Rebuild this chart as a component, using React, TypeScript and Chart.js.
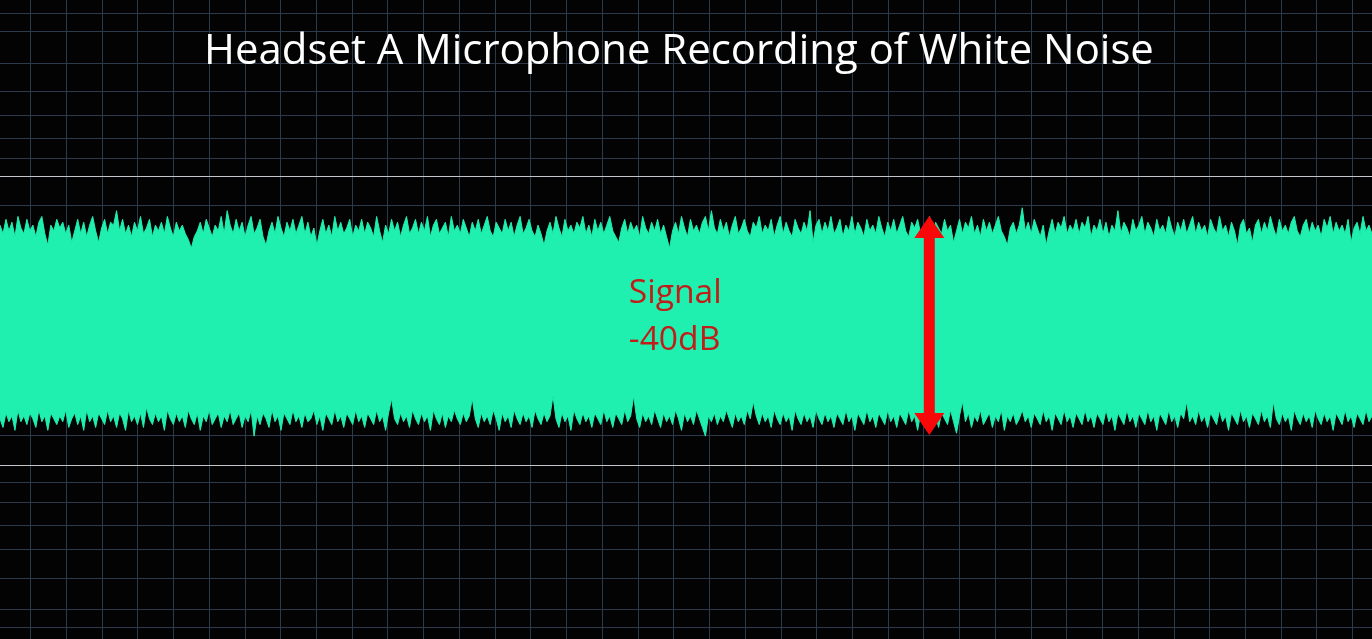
import { useEffect, useRef } from "react";
import { Chart, registerables } from "chart.js";

Chart.register(...registerables);

const TITLE = "Headset A Microphone Recording of White Noise";
const SIGNAL_LABEL = ["Signal", "-40dB"];

// Upper edge of the waveform (percent of full scale), read left to right
const upperPeaks = [
  33,30,35,31,34,29,36,32,30,35,31,33,29,34,36,30,26,33,31,35,
  32,34,30,33,27,31,35,30,34,29,33,36,31,27,32,35,30,34,33,38,
  31,35,30,33,29,34,31,36,30,32,35,29,33,31,34,30,36,32,29,34,
  31,33,30,28,25,29,31,34,30,35,32,29,33,31,36,30,38,33,30,35,
  31,34,29,33,36,30,32,35,29,26,31,34,30,36,32,29,34,31,35,30,
  33,36,30,34,29,32,26,31,35,30,33,29,36,31,34,30,32,35,29,33,
  31,35,30,34,32,29,36,31,27,33,30,35,31,34,29,33,36,30,32,35,
  30,34,31,36,29,33,35,30,32,34,29,36,31,33,30,35,32,29,34,31,
  35,30,33,36,31,29,34,32,30,35,31,34,29,33,36,30,32,35,31,29,
  33,30,26,31,34,30,36,32,29,35,31,33,30,34,32,36,30,33,29,35,
  31,34,30,33,36,31,29,27,32,35,30,34,31,33,29,36,32,30,34,31,
  35,30,33,29,25,31,34,30,36,32,29,35,31,33,30,34,36,31,38,32,
  30,35,31,34,29,33,36,30,32,35,31,29,34,32,36,30,33,31,35,29,
  33,36,30,34,31,29,35,32,30,34,31,38,27,33,35,30,34,31,36,30,
  32,35,29,33,31,36,30,34,32,29,35,31,33,30,36,32,29,34,31,35,
  30,33,36,31,29,34,32,35,30,33,31,36,29,34,32,30,35,31,33,27,
  31,35,30,34,32,36,30,33,29,35,31,34,30,33,36,31,29,26,32,34,
  30,33,39,31,34,30,35,32,29,33,26,31,35,30,34,32,36,30,33,31,
  35,30,34,32,36,29,33,31,35,30,34,29,33,31,38,30,34,32,29,35,
  31,33,36,30,34,32,29,35,31,33,30,36,32,29,34,31,35,30,33,36,
  30,34,31,33,29,35,32,30,36,31,33,29,34,31,26,33,35,30,32,27,
  33,35,30,34,31,36,32,29,35,31,33,30,34,36,31,29,33,35,30,34,
  31,33,29,35,32,36,30,34,31,33,30,35,27,32,34,30,36,31,33,30,
];

// Lower edge of the waveform (percent of full scale), read left to right
const lowerPeaks = [
  -34,-37,-32,-35,-33,-38,-31,-35,-33,-36,-32,-34,-37,-31,-35,-33,-38,-32,-34,-36,
  -33,-35,-31,-37,-34,-32,-36,-33,-38,-31,-35,-33,-37,-32,-34,-36,-31,-35,-33,-37,
  -32,-34,-38,-31,-35,-33,-36,-32,-37,-30,-34,-36,-32,-35,-33,-38,-31,-34,-36,-32,
  -35,-33,-37,-31,-34,-36,-32,-38,-33,-35,-31,-36,-34,-32,-37,-33,-35,-31,-36,-34,
  -32,-37,-33,-35,-31,-40,-33,-36,-32,-34,-37,-31,-35,-33,-38,-32,-34,-36,-31,-35,
  -33,-37,-32,-35,-34,-31,-36,-33,-38,-32,-34,-36,-31,-35,-33,-37,-32,-34,-36,-31,
  -35,-33,-37,-32,-34,-36,-31,-35,-33,-38,-32,-27,-34,-36,-32,-35,-33,-37,-31,-34,
  -36,-32,-35,-33,-38,-31,-34,-36,-32,-37,-33,-35,-31,-34,-36,-32,-35,-33,-27,-34,
  -37,-32,-35,-33,-36,-31,-34,-38,-32,-35,-33,-37,-31,-34,-36,-32,-35,-33,-37,-31,
  -34,-36,-32,-35,-33,-26,-34,-37,-32,-35,-33,-38,-31,-34,-36,-32,-35,-33,-37,-32,
  -34,-36,-31,-35,-33,-37,-32,-34,-36,-31,-35,-33,-26,-34,-37,-32,-35,-33,-36,-31,
  -34,-37,-32,-35,-33,-36,-31,-34,-38,-32,-35,-33,-36,-31,-34,-37,-40,-33,-35,-32,
  -36,-33,-35,-31,-34,-37,-32,-35,-33,-36,-31,-34,-28,-33,-36,-32,-35,-33,-37,-31,
  -34,-36,-32,-35,-33,-38,-31,-34,-36,-32,-35,-33,-37,-31,-34,-36,-32,-35,-33,-37,
  -32,-34,-36,-31,-35,-33,-38,-32,-34,-36,-31,-35,-33,-37,-32,-34,-36,-31,-35,-33,
  -37,-32,-34,-36,-31,-35,-33,-38,-32,-34,-36,-31,-35,-33,-37,-32,-34,-36,-31,-35,
  -39,-33,-28,-35,-32,-37,-33,-35,-31,-36,-34,-32,-37,-33,-35,-31,-38,-33,-35,-32,
  -36,-34,-31,-35,-33,-37,-32,-34,-36,-31,-35,-33,-38,-32,-34,-36,-31,-35,-33,-37,
  -32,-34,-36,-31,-35,-33,-37,-32,-34,-36,-31,-35,-33,-38,-32,-34,-36,-31,-35,-33,
  -37,-32,-34,-36,-31,-35,-33,-38,-32,-34,-36,-31,-35,-33,-37,-32,-34,-28,-35,-33,
  -36,-31,-35,-33,-37,-32,-34,-36,-31,-35,-33,-38,-32,-34,-36,-31,-35,-33,-37,-32,
  -34,-36,-31,-35,-33,-37,-28,-34,-36,-32,-35,-33,-38,-31,-34,-36,-32,-35,-33,-37,
  -31,-34,-36,-32,-35,-33,-38,-32,-34,-36,-31,-35,-33,-37,-32,-34,-36,-31,-35,-33,
];

// Time axis (grid divisions) and amplitude axis (percent of full scale)
const X_MIN = 0.141;
const X_MAX = 38.54;
const Y_MIN = -110.2;
const Y_MAX = 110.9;
const xGridTicks = [
  1, 2, 3, 4, 5, 6, 7, 8, 9, 10, 11, 12, 13, 14, 15, 16, 17, 18, 19,
  20, 21, 22, 23, 24, 25, 26, 27, 28, 29, 30, 31, 32, 33, 34, 35, 36, 37, 38,
];
const yGridTicks = [
  -106.2, -100, -89.1, -79.4, -70.8, -63.1, -56.2, -50, -39.8,
  39.8, 50, 56.2, 63.1, 70.8, 79.4, 89.1, 100, 106.2,
];
const REFERENCE_LEVEL = 50;

// Annotation: double arrow spanning the signal, and its label
const ARROW_X = 26.15;
const ARROW_TOP = 36.2;
const ARROW_BOTTOM = -39.6;
const LABEL_X = 17.74;
const LABEL_Y = [5.95, -10.2];

const WAVE = "#1ff0b0";
const GRID = "#2c394b";
const REF_LINE = "#c4c6cc";
const BG = "#040304";

function toPoints(values: number[]) {
  const n = values.length;
  return values.map((v, i) => ({ x: X_MIN + (i * (X_MAX - X_MIN)) / (n - 1), y: v }));
}

const overlayPlugin = {
  id: "overlay",
  beforeDraw(chart: any) {
    const { ctx, width, height } = chart;
    ctx.save();
    ctx.fillStyle = BG;
    ctx.fillRect(0, 0, width, height);
    ctx.restore();
  },
  afterDraw(chart: any) {
    const { ctx } = chart;
    const xs = chart.scales.x;
    const ys = chart.scales.y;
    ctx.save();

    // Arrow
    const ax = xs.getPixelForValue(ARROW_X);
    const yTop = ys.getPixelForValue(ARROW_TOP);
    const yBot = ys.getPixelForValue(ARROW_BOTTOM);
    const half = 5.5;
    const headHalf = 15;
    const headLen = 22;
    ctx.fillStyle = "#f80808";
    ctx.beginPath();
    ctx.moveTo(ax, yTop);
    ctx.lineTo(ax + headHalf, yTop + headLen);
    ctx.lineTo(ax + half, yTop + headLen);
    ctx.lineTo(ax + half, yBot - headLen);
    ctx.lineTo(ax + headHalf, yBot - headLen);
    ctx.lineTo(ax, yBot);
    ctx.lineTo(ax - headHalf, yBot - headLen);
    ctx.lineTo(ax - half, yBot - headLen);
    ctx.lineTo(ax - half, yTop + headLen);
    ctx.lineTo(ax - headHalf, yTop + headLen);
    ctx.closePath();
    ctx.fill();

    // Signal label
    ctx.font = '100px "Open Sans"';
    const w100 = ctx.measureText(SIGNAL_LABEL[0]).width;
    const lsize = (100 * 93) / w100;
    ctx.font = `${lsize}px "Open Sans"`;
    ctx.fillStyle = "#c21c18";
    ctx.textAlign = "left";
    ctx.textBaseline = "alphabetic";
    const lx = xs.getPixelForValue(LABEL_X);
    SIGNAL_LABEL.forEach((t, i) => {
      ctx.fillText(t, lx, ys.getPixelForValue(LABEL_Y[i]));
    });

    // Title
    ctx.font = '100px "Open Sans"';
    const tw = ctx.measureText(TITLE).width;
    const tsize = (100 * 950) / tw;
    ctx.font = `${tsize}px "Open Sans"`;
    ctx.fillStyle = "#ffffff";
    ctx.textAlign = "center";
    ctx.fillText(TITLE, 679, 63.5);
    ctx.restore();
  },
};

export default function App() {
  const ref = useRef<HTMLCanvasElement | null>(null);

  useEffect(() => {
    document.body.style.margin = "0";
    document.body.style.background = BG;
    if (!ref.current) return;
    const chart = new Chart(ref.current, {
      type: "line",
      data: {
        datasets: [
          {
            data: toPoints(upperPeaks),
            borderColor: WAVE,
            backgroundColor: WAVE,
            borderWidth: 1,
            pointRadius: 0,
            tension: 0,
            fill: "+1",
          },
          {
            data: toPoints(lowerPeaks),
            borderColor: WAVE,
            backgroundColor: WAVE,
            borderWidth: 1,
            pointRadius: 0,
            tension: 0,
            fill: false,
          },
        ],
      },
      options: {
        responsive: false,
        animation: false,
        events: [],
        layout: { padding: 0 },
        plugins: {
          legend: { display: false },
          tooltip: { enabled: false },
          title: { display: false },
        },
        scales: {
          x: {
            type: "linear",
            min: X_MIN,
            max: X_MAX,
            afterBuildTicks: (s: any) => {
              s.ticks = xGridTicks.map((v) => ({ value: v }));
            },
            afterFit: (s: any) => {
              s.height = 0;
            },
            ticks: { display: false },
            grid: { color: GRID, lineWidth: 1, drawTicks: false },
            border: { display: false },
          },
          y: {
            type: "linear",
            min: Y_MIN,
            max: Y_MAX,
            afterBuildTicks: (s: any) => {
              s.ticks = yGridTicks.map((v) => ({ value: v }));
            },
            afterFit: (s: any) => {
              s.width = 0;
            },
            ticks: { display: false },
            grid: {
              color: (c: any) =>
                c.tick && Math.abs(c.tick.value) === REFERENCE_LEVEL ? REF_LINE : GRID,
              lineWidth: 1,
              drawTicks: false,
            },
            border: { display: false },
          },
        },
      },
      plugins: [overlayPlugin],
    } as any);
    return () => chart.destroy();
  }, []);

  return <canvas ref={ref} width={1372} height={639} style={{ display: "block" }} />;
}
